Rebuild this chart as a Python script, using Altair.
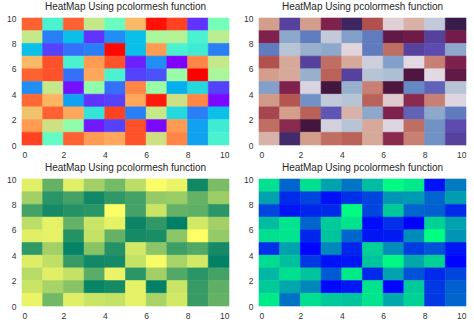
import math
import altair as alt
import pandas as pd

# cell values, rows listed from top (y=9..10) to bottom (y=0..1), columns x=0..9
row9 = [0.88, 0.42, 0.88, 0.65, 0.48, 0.75, 0.98, 0.92, 0.10, 0.50]
row8 = [0.65, 0.20, 0.30, 0.10, 0.22, 0.30, 0.60, 0.62, 0.42, 0.63]
row7 = [0.30, 0.12, 0.18, 0.20, 0.99, 0.30, 0.80, 0.42, 0.40, 0.20]
row6 = [0.75, 0.90, 0.42, 0.80, 0.90, 0.08, 0.22, 0.04, 0.83, 0.65]
row5 = [0.88, 0.90, 0.18, 0.78, 0.42, 0.12, 0.14, 0.57, 1.00, 0.60]
row4 = [0.22, 0.65, 0.06, 0.55, 0.18, 0.83, 0.57, 0.27, 0.35, 0.12]
row3 = [0.87, 0.76, 0.25, 0.10, 0.12, 0.78, 0.97, 0.67, 0.83, 0.05]
row2 = [0.73, 0.88, 0.78, 0.38, 0.92, 0.20, 0.65, 0.35, 0.20, 0.30]
row1 = [0.80, 0.67, 0.55, 0.07, 0.12, 0.90, 0.05, 0.80, 0.25, 0.40]
row0 = [0.92, 0.47, 0.88, 0.80, 0.78, 0.90, 0.67, 0.83, 0.25, 0.42]
rows = [row9, row8, row7, row6, row5, row4, row3, row2, row1, row0]
tick_values = [0, 2, 4, 6, 8, 10]
title_text = "HeatMap Using pcolormesh function"

records = []
for i, row in enumerate(rows):
    y = 9 - i
    for c, v in enumerate(row):
        records.append({"x": c, "x2": c + 1, "y": y, "y2": y + 1, "v": v})
df = pd.DataFrame(records)
vmin, vmax = float(df.v.min()), float(df.v.max())


def hexc(r, g, b):
    return "#%02x%02x%02x" % tuple(int(round(max(0.0, min(1.0, t)) * 255)) for t in (r, g, b))


steps = [k / 20 for k in range(21)]
rainbow = [hexc(abs(2 * t - 0.5), math.sin(math.pi * t), math.cos(math.pi * t / 2)) for t in steps]
summer = [hexc(t, 0.5 + t / 2, 0.4) for t in steps]
winter = [hexc(0, t, 1 - t / 2) for t in steps]
twilight = ["#e2d9e2", "#a2bacf", "#6285c2", "#5e4bb0", "#301437",
            "#7a1c4d", "#b5554f", "#d39f8c", "#e2d9e2"]


def panel(colors):
    axis_x = alt.Axis(values=tick_values, grid=False, domain=False, ticks=False,
                      labelPadding=5, title=None)
    axis_y = alt.Axis(values=tick_values, grid=False, domain=False, ticks=False,
                      labelPadding=6, title=None)
    sc = alt.Scale(domain=[vmin, vmax], range=colors, interpolate="rgb")
    return alt.Chart(df, title=alt.Title(title_text, frame="group")).mark_rect(strokeWidth=0.6).encode(
        x=alt.X("x:Q", scale=alt.Scale(domain=[0, 10], nice=False), axis=axis_x),
        x2="x2:Q",
        y=alt.Y("y:Q", scale=alt.Scale(domain=[0, 10], nice=False), axis=axis_y),
        y2="y2:Q",
        color=alt.Color("v:Q", scale=sc, legend=None),
        stroke=alt.Stroke("v:Q", scale=sc, legend=None),
    ).properties(width=207, height=127)


chart = alt.concat(
    panel(rainbow), panel(twilight), panel(summer), panel(winter),
    columns=2, spacing={"row": 34, "column": 30}, bounds="flush",
).resolve_scale(color="independent", stroke="independent").properties(
    padding={"left": 6, "top": 2, "right": 0, "bottom": 0}
).configure_view(stroke=None).configure_axis(
    labelFont="Liberation Sans", labelFontSize=8.5, labelColor="#333333"
).configure_title(
    font="Liberation Sans", fontSize=10, fontWeight="normal", color="#262626", offset=2
)

chart.save("out.html", embed_options={"renderer": "svg", "actions": False})
